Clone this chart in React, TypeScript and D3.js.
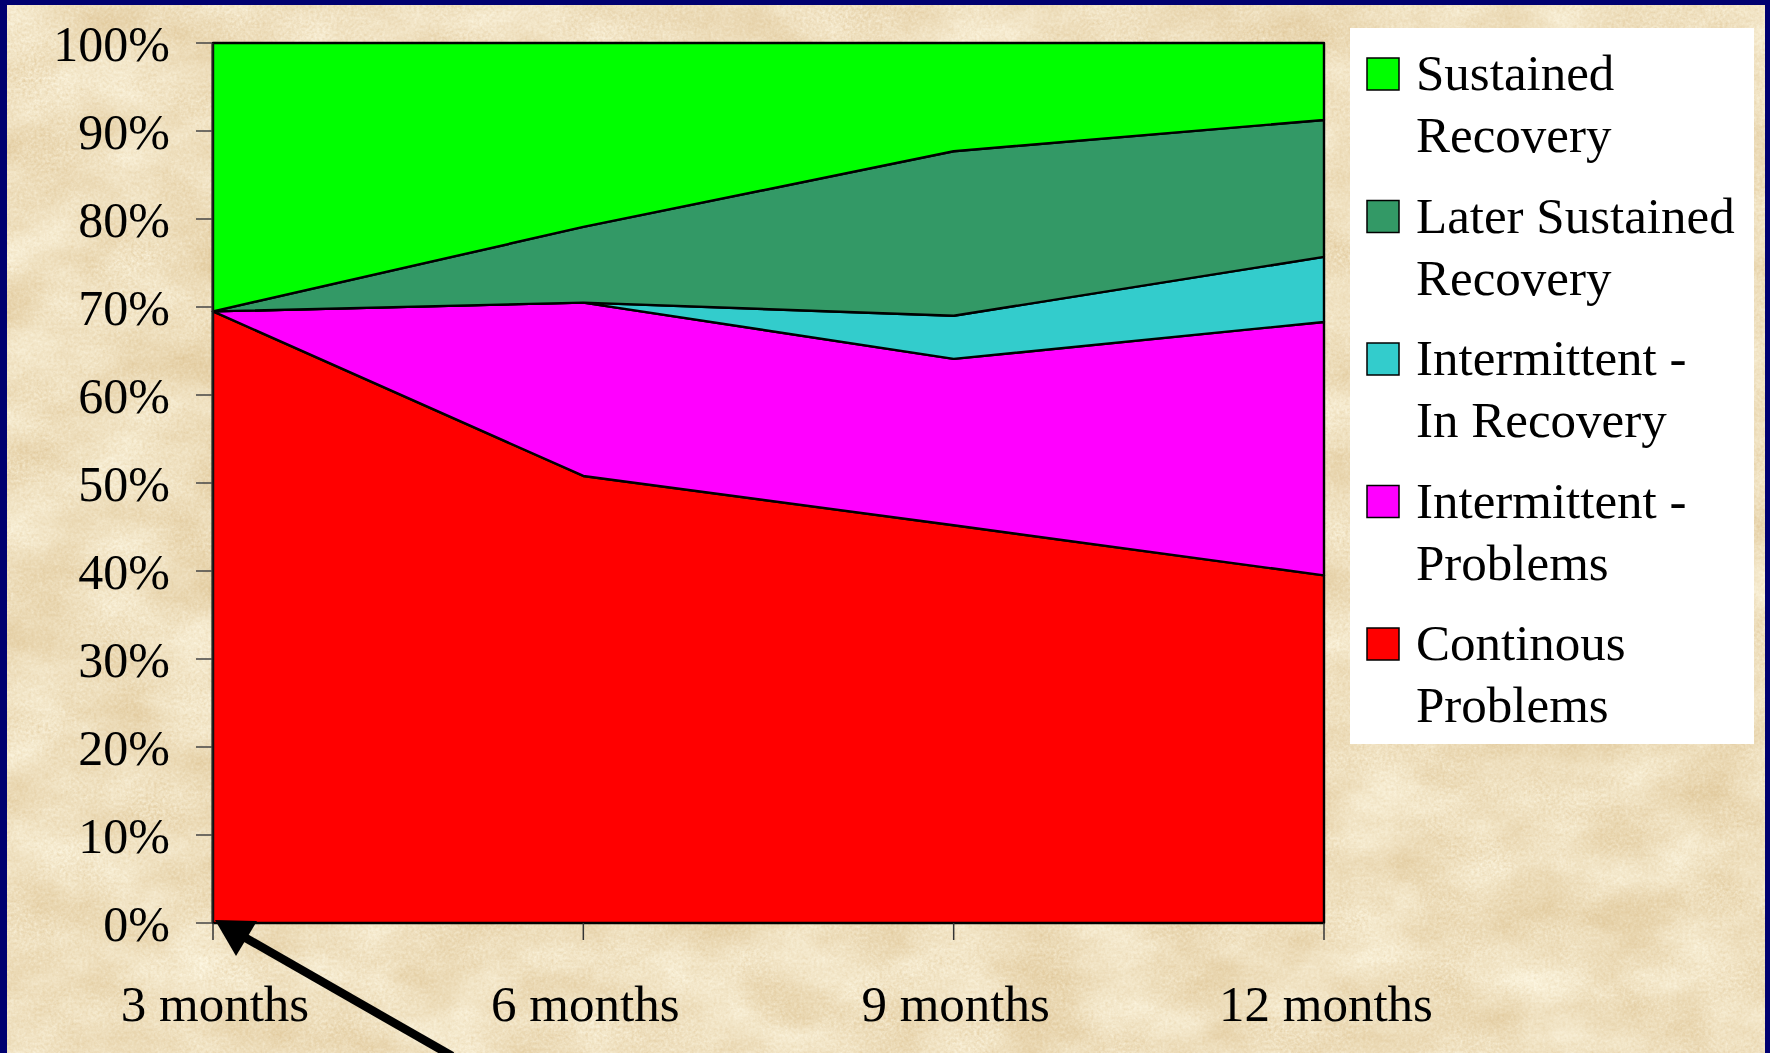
import React from "react";
import * as d3 from "d3";

// Time points of the follow-up
const categories = ["3 months", "6 months", "9 months", "12 months"];

// Share of patients in each course (percent), stacked bottom to top
const continuousProblems = [69.5, 50.8, 45.2, 39.5];
const intermittentProblems = [0, 19.7, 18.9, 28.8];
const intermittentRecovery = [0, 0, 4.9, 7.4];
const laterSustainedRecovery = [0, 8.6, 18.7, 15.55];
const sustainedRecovery = [30.5, 20.9, 12.3, 8.75];

const yTicks = [0, 10, 20, 30, 40, 50, 60, 70, 80, 90, 100];

const seriesKeys = ["cont", "intProb", "intRec", "later", "sust"];
const seriesColors: Record<string, string> = {
  cont: "#FF0000",
  intProb: "#FF00FF",
  intRec: "#33CCCC",
  later: "#339966",
  sust: "#00FF00",
};
// Legend rows, top to bottom
const legendItems = [
  { key: "sust", lines: ["Sustained", "Recovery"] },
  { key: "later", lines: ["Later Sustained", "Recovery"] },
  { key: "intRec", lines: ["Intermittent -", "In Recovery"] },
  { key: "intProb", lines: ["Intermittent -", "Problems"] },
  { key: "cont", lines: ["Continous", "Problems"] },
];

const W = 1770;
const H = 1053;
const FONT = "'Liberation Serif', 'Times New Roman', Times, serif";

export default function App() {
  const rows = categories.map((c, i) => ({
    cat: c,
    cont: continuousProblems[i],
    intProb: intermittentProblems[i],
    intRec: intermittentRecovery[i],
    later: laterSustainedRecovery[i],
    sust: sustainedRecovery[i],
  }));

  const x = d3.scalePoint<string>().domain(categories).range([213, 1324]);
  const y = d3.scaleLinear().domain([0, 100]).range([923, 43]);

  const stacked = d3.stack<any>().keys(seriesKeys)(rows);
  const area = d3
    .area<any>()
    .x((d) => x(d.data.cat) as number)
    .y0((d) => y(d[0]))
    .y1((d) => y(d[1]));

  const legendX = 1350;
  const legendY = 28;
  const itemStep = 142.5;
  const firstBase = 90;

  return (
    <svg
      width={W}
      height={H}
      style={{ position: "absolute", left: 0, top: 0, display: "block" }}
      xmlns="http://www.w3.org/2000/svg"
    >
      <defs>
        <filter id="parchment" x="0" y="0" width="100%" height="100%" colorInterpolationFilters="sRGB">
          <feTurbulence type="fractalNoise" baseFrequency="0.012 0.018" numOctaves={4} seed={11} result="coarse" />
          <feTurbulence type="fractalNoise" baseFrequency="0.35" numOctaves={2} seed={5} result="grain" />
          <feComposite in="coarse" in2="grain" operator="arithmetic" k1={0} k2={0.6} k3={0.4} k4={0} result="mix" />
          <feColorMatrix
            in="mix"
            type="matrix"
            values="0.16 0 0 0 0.855  0.26 0 0 0 0.745  0.40 0 0 0 0.545  0 0 0 0 1"
          />
        </filter>
      </defs>

      {/* slide frame and textured background */}
      <rect x={0} y={0} width={W} height={H} fill="#000070" />
      <rect x={7} y={5} width={W - 12} height={H - 5} fill="#EBDAB8" />
      <rect x={7} y={5} width={W - 12} height={H - 5} filter="url(#parchment)" />

      {/* stacked areas */}
      {stacked.map((s) => (
        <path
          key={s.key}
          d={area(s) || ""}
          fill={seriesColors[s.key]}
          stroke="#000"
          strokeWidth={2.4}
          strokeLinejoin="round"
        />
      ))}

      {/* y axis */}
      <line x1={212.5} x2={212.5} y1={y(100)} y2={y(0)} stroke="#222" strokeWidth={2} />
      {yTicks.map((t) => (
        <g key={t}>
          <line x1={196} x2={212} y1={y(t)} y2={y(t)} stroke="#444" strokeWidth={1.5} />
          <text
            x={170}
            y={y(t) + 18}
            textAnchor="end"
            fontFamily={FONT}
            fontSize={50}
            fill="#000"
          >
            {t}%
          </text>
        </g>
      ))}

      {/* x axis */}
      <line x1={x(categories[0])} x2={x(categories[categories.length - 1])} y1={y(0)} y2={y(0)} stroke="#000" strokeWidth={2} />
      {categories.map((c) => (
        <g key={c}>
          <line x1={x(c)} x2={x(c)} y1={y(0)} y2={y(0) + 17} stroke="#333" strokeWidth={1.5} />
          <text
            x={(x(c) as number) + 2}
            y={1021}
            textAnchor="middle"
            fontFamily={FONT}
            fontSize={51}
            fill="#000"
          >
            {c}
          </text>
        </g>
      ))}

      {/* legend */}
      <rect x={legendX} y={legendY} width={404} height={716} fill="#FFFFFF" />
      {legendItems.map((it, i) => {
        const base = firstBase + i * itemStep;
        return (
          <g key={it.key}>
            <rect
              x={1367}
              y={base - 32}
              width={32}
              height={32}
              fill={seriesColors[it.key]}
              stroke="#000"
              strokeWidth={1.5}
            />
            {it.lines.map((ln, j) => (
              <text
                key={j}
                x={1416}
                y={base + j * 62}
                fontFamily={FONT}
                fontSize={51}
                fill="#000"
              >
                {ln}
              </text>
            ))}
          </g>
        );
      })}

      {/* pointer arrow to the origin */}
      <line x1={244} x2={452} y1={937} y2={1056} stroke="#000" strokeWidth={8.5} />
      <path
        d={d3.line()([
          [215, 920],
          [257, 921],
          [236, 956],
        ]) + "Z"}
        fill="#000"
      />
    </svg>
  );
}
